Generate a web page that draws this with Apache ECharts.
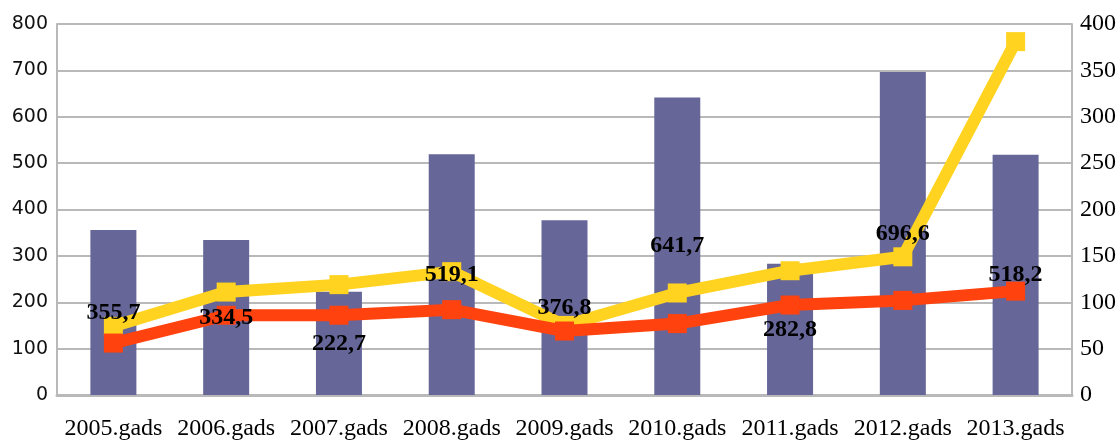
<!DOCTYPE html>
<html>
<head>
<meta charset="utf-8">
<script src="https://cdn.jsdelivr.net/npm/echarts@6/dist/echarts.min.js"></script>
<style>
    html, body { margin: 0; padding: 0; background: #fff; }
    #chart { width: 1119px; height: 441px; }
</style>
</head>
<body>
<div id="chart"></div>
<script>
// data
const years = ['2005.gads', '2006.gads', '2007.gads', '2008.gads', '2009.gads',
    '2010.gads', '2011.gads', '2012.gads', '2013.gads']
const barValues = [355.7, 334.5, 222.7, 519.1, 376.8, 641.7, 282.8, 696.6, 518.2]
const yellowValues = [74, 111, 119, 133, 75, 110, 134, 149, 381]
const redValues = [56, 86, 86, 92, 69, 77, 97, 102, 112]

const gridColor = '#b9b9b9'

const chart = echarts.init(document.getElementById('chart'), null, { renderer: 'canvas' })

chart.setOption({
    animation: false,
    grid: {
        top: 24,
        left: 57,
        right: 46,
        bottom: 44,
    },
    xAxis: {
        type: 'category',
        data: years,
        axisTick: { show: false },
        axisLine: {
            show: true,
            lineStyle: { color: gridColor, width: 3 },
        },
        axisLabel: {
            color: '#000',
            fontFamily: 'Liberation Serif',
            fontSize: 24,
            margin: 22,
            interval: 0,
        },
    },
    yAxis: [{
        type: 'value',
        min: 0,
        max: 800,
        interval: 100,
        axisLine: {
            show: true,
            lineStyle: { color: gridColor, width: 2 },
        },
        axisTick: { show: false },
        splitLine: {
            lineStyle: { color: gridColor, width: 2 },
        },
        axisLabel: {
            color: '#111',
            fontFamily: 'DejaVu Sans',
            fontSize: 19,
            margin: 9,
        },
    }, {
        type: 'value',
        min: 0,
        max: 400,
        interval: 50,
        position: 'right',
        axisLine: {
            show: true,
            lineStyle: { color: gridColor, width: 2 },
        },
        axisTick: { show: false },
        splitLine: { show: false },
        axisLabel: {
            color: '#000',
            fontFamily: 'Liberation Serif',
            fontSize: 24,
            margin: 8,
        },
    }],
    series: [{
        type: 'bar',
        data: barValues,
        barWidth: 46,
        z: 2,
        itemStyle: { color: '#666699' },
    }, {
        type: 'line',
        yAxisIndex: 1,
        data: yellowValues,
        z: 3,
        symbol: 'rect',
        symbolSize: 19,
        lineStyle: { color: '#ffd320', width: 12 },
        itemStyle: { color: '#ffd320' },
    }, {
        type: 'line',
        yAxisIndex: 1,
        data: redValues,
        z: 3,
        symbol: 'rect',
        symbolSize: 19,
        lineStyle: { color: '#ff420e', width: 12 },
        itemStyle: { color: '#ff420e' },
    }, {
        // transparent copy of the bars, only to keep the value labels on top of the lines
        type: 'bar',
        data: barValues,
        barWidth: 46,
        barGap: '-100%',
        z: 5,
        itemStyle: { color: 'rgba(0,0,0,0)' },
        label: {
            show: true,
            position: 'inside',
            color: '#000',
            fontFamily: 'Liberation Serif',
            fontWeight: 'bold',
            fontSize: 24,
            formatter: (p) => String(p.value).replace('.', ','),
        },
    }],
})
</script>
</body>
</html>
